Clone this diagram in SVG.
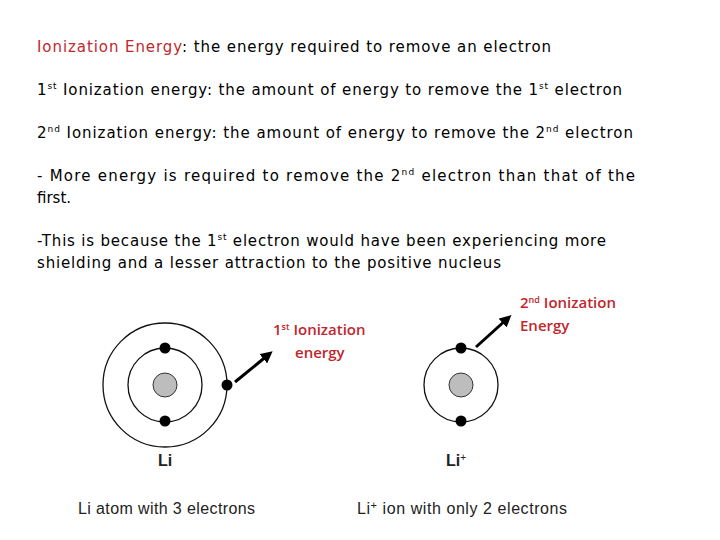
<svg xmlns="http://www.w3.org/2000/svg" width="720" height="540" viewBox="0 0 720 540">
<style>
.t{font-family:"DejaVu Sans",sans-serif;font-size:15px;fill:#000}
.r{font-family:"Open Sans","Liberation Sans",sans-serif;font-size:15px;font-weight:600;fill:#c0272d}
.s{font-family:"Liberation Sans",sans-serif;font-size:16px;fill:#222}
.orb{fill:none;stroke:#111;stroke-width:1.3}
.nuc{fill:#bdbdbd;stroke:#333;stroke-width:1}
.e{fill:#000}
.a{stroke:#000;stroke-width:3;marker-end:url(#ah)}
</style>
<defs><marker id="ah" markerWidth="4" markerHeight="4" refX="2" refY="2" orient="auto"><path d="M0,0 L4,2 L0,4z" fill="#000"/></marker></defs>
<rect width="720" height="540" fill="#fff"/>
<g id="text">
<text class="t" x="37" y="52" textLength="514"><tspan fill="#c0272d">Ionization Energy</tspan>: the energy required to remove an electron</text>
<text class="t" x="37" y="95" textLength="585">1<tspan font-size="9" dy="-6">st</tspan><tspan dy="6"> Ionization energy: the amount of energy to remove the 1</tspan><tspan font-size="9" dy="-6">st</tspan><tspan dy="6"> electron</tspan></text>
<text class="t" x="37" y="138" textLength="596">2<tspan font-size="9" dy="-6">nd</tspan><tspan dy="6"> Ionization energy: the amount of energy to remove the 2</tspan><tspan font-size="9" dy="-6">nd</tspan><tspan dy="6"> electron</tspan></text>
<text class="t" x="37" y="181" textLength="598"> - More energy is required to remove the  2<tspan font-size="9" dy="-6">nd</tspan><tspan dy="6"> electron than that of the</tspan></text>
<text class="t" x="37" y="203">first.</text>
<text class="t" x="37" y="246" textLength="569">-This is because the 1<tspan font-size="9" dy="-6">st</tspan><tspan dy="6"> electron would have been experiencing more</tspan></text>
<text class="t" x="37" y="268" textLength="464">shielding and a lesser attraction to the positive nucleus</text>
</g>
<g id="li-atom">
<circle class="orb" cx="165" cy="385" r="62"/>
<circle class="orb" cx="165" cy="385" r="37"/>
<circle class="nuc" cx="165" cy="385" r="12"/>
<circle class="e" cx="165" cy="348" r="5.5"/>
<circle class="e" cx="165" cy="421" r="5.5"/>
<circle class="e" cx="227" cy="385" r="5.5"/>
<text class="s" x="158" y="466" font-weight="bold" font-size="15">Li</text>
</g>
<g id="li-ion">
<circle class="orb" cx="461" cy="385" r="37"/>
<circle class="nuc" cx="461" cy="385" r="12"/>
<circle class="e" cx="461" cy="348" r="5.5"/>
<circle class="e" cx="461" cy="421" r="5.5"/>
<text class="s" x="446" y="466" font-size="15" font-weight="bold">Li<tspan font-size="10" dy="-5" font-weight="normal">+</tspan></text>
</g>
<g id="connectors">
<line class="a" x1="235" y1="382" x2="268" y2="355"/>
<line class="a" x1="476" y1="347" x2="507" y2="319"/>
</g>
<g id="labels">
<text class="r" x="273" y="335">1<tspan font-size="9" dy="-5">st</tspan><tspan dy="5"> Ionization</tspan></text>
<text class="r" x="295" y="358">energy</text>
<text class="r" x="520" y="308">2<tspan font-size="9" dy="-5">nd</tspan><tspan dy="5"> Ionization</tspan></text>
<text class="r" x="520" y="331">Energy</text>
<text class="s" x="78" y="514" textLength="177">Li atom with 3 electrons</text>
<text class="s" x="357" y="514" textLength="210">Li<tspan font-size="11" dy="-5">+</tspan><tspan dy="5"> ion with only 2 electrons</tspan></text>
</g>
</svg>
